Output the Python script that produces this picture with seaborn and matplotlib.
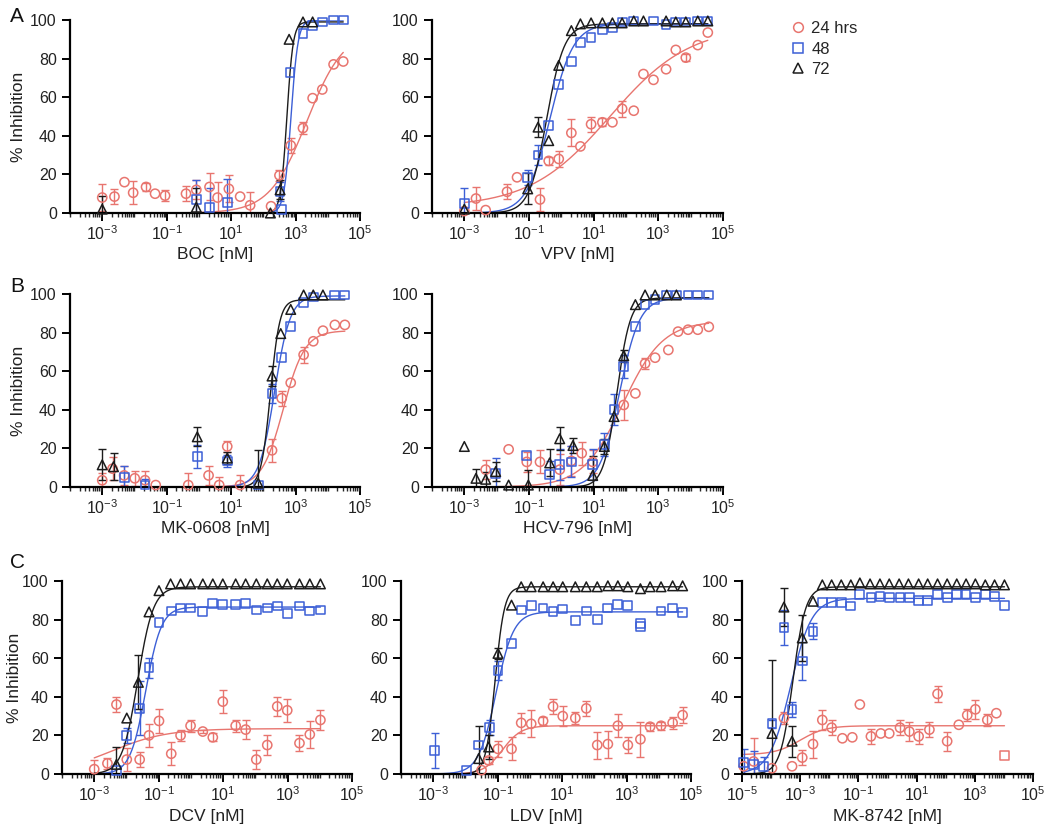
import numpy as np
import pandas as pd
import matplotlib
matplotlib.use("Agg")
import matplotlib.pyplot as plt
from matplotlib.lines import Line2D
from matplotlib.ticker import FixedLocator, FixedFormatter, LogLocator, NullFormatter
import seaborn as sns

RED = "#e8756f"
BLUE = "#3c5fd6"
BLACK = "#1c1c1c"

# x values are log10 of concentration [nM]
# ---- A: BOC
BOC_24_X = [-3, -2.62, -2.31, -2.04, -1.64, -1.36, -1.05, -0.4, -0.08, 0.33, 0.58, 0.93, 1.28, 1.59, 2.24, 2.5, 2.85, 3.23, 3.53, 3.83, 4.18, 4.48]
BOC_24_Y = [8, 8.5, 16, 10.5, 13.5, 10, 9, 10, 12, 13.5, 8, 12.5, 8.5, 4, 3.5, 19.5, 35, 44, 59.5, 64, 77, 78.5]
BOC_24_E = [7, 4, 0, 6, 2, 0, 3, 4, 5, 7, 8, 7, 0, 7, 0, 3, 4, 3, 0, 0, 0, 0]
BOC_48_X = [-0.08, 0.33, 0.88, 2.52, 2.56, 2.83, 3.23, 3.53, 3.83, 4.18, 4.48]
BOC_48_Y = [7, 3, 5.5, 11, 2, 73, 93, 97, 99, 100, 100]
BOC_48_E = [10, 10, 12, 5, 0, 0, 0, 0, 0, 0, 0]
BOC_72_X = [-3, -0.08, 2.22, 2.52, 2.8, 3.23, 3.53]
BOC_72_Y = [2, 3, 0, 12, 90, 99, 99]
BOC_72_E = [7, 10, 0, 5, 0, 0, 0]
BOC_FIT = [(0, 95, 3.35, 0.75), (0, 100, 2.86, 4.0), (0, 99, 2.73, 4.5)]

# ---- A: VPV
VPV_24_X = [-3, -2.64, -2.34, -1.68, -1.37, -0.66, -0.39, -0.08, 0.31, 0.59, 0.92, 1.27, 1.58, 1.88, 2.24, 2.54, 2.85, 3.24, 3.54, 3.85, 4.22, 4.53]
VPV_24_Y = [1, 7.5, 1.5, 11, 18.5, 7, 27, 28, 41.5, 34.5, 46, 47, 47, 54, 53, 72, 69, 74.5, 84.5, 80.5, 87, 93.5]
VPV_24_E = [0, 6, 0, 4, 0, 6, 2, 4, 7, 0, 4, 2, 0, 4, 0, 0, 0, 0, 0, 2, 0, 0]
VPV_48_X = [-3, -1.04, -0.72, -0.39, -0.08, 0.31, 0.59, 0.92, 1.27, 1.58, 1.88, 2.24, 2.85, 3.24, 3.54, 3.85, 4.22, 4.53]
VPV_48_Y = [5, 18.5, 30, 45.5, 66.5, 78.5, 88.5, 91, 95, 96, 99, 99.5, 99.5, 97.5, 99, 99, 99.5, 99.5]
VPV_48_E = [8, 4, 5, 0, 0, 0, 0, 0, 0, 0, 0, 0, 0, 0, 0, 0, 0, 0]
VPV_72_X = [-3, -1.04, -0.72, -0.39, -0.08, 0.31, 0.59, 0.92, 1.27, 1.58, 1.88, 2.24, 2.54, 3.24, 3.54, 3.85, 4.22, 4.53]
VPV_72_Y = [2, 12.5, 44.5, 37.5, 76.5, 94.5, 98, 98.5, 98.5, 98.5, 98.5, 99.5, 99.5, 99.5, 99, 99, 99.5, 99.5]
VPV_72_E = [0, 8, 5, 0, 0, 0, 0, 0, 0, 0, 0, 0, 0, 0, 0, 0, 0, 0]
VPV_FIT = [(3, 97, 1.5, 0.35), (0, 98, -0.35, 1.2), (0, 98, -0.45, 1.6)]

# ---- B: MK-0608
MK0608_24_X = [-3, -2.68, -2.32, -1.99, -1.67, -1.34, -0.33, 0.3, 0.63, 0.88, 1.28, 2.27, 2.57, 2.85, 3.25, 3.55, 3.85, 4.22, 4.53]
MK0608_24_Y = [3.5, 9.5, 6, 4.5, 3.5, 1, 1, 6, 1, 21, 1, 19, 46, 54, 68.5, 75.5, 81, 84, 84]
MK0608_24_E = [4, 6, 5, 4, 5, 0, 6, 5, 4, 3, 5, 6, 4, 0, 4, 0, 0, 0, 0]
MK0608_48_X = [-2.32, -1.67, -0.05, 0.88, 1.84, 2.27, 2.57, 2.85, 3.25, 3.55, 4.22, 4.53]
MK0608_48_Y = [5, 1, 16, 13.5, 1, 48.5, 67, 83, 95.5, 98.5, 99.5, 99.5]
MK0608_48_E = [6, 3, 6, 3, 0, 5, 0, 0, 0, 0, 0, 0]
MK0608_72_X = [-3, -2.65, -0.05, 0.88, 1.84, 2.27, 2.54, 2.85, 3.25, 3.55, 3.85]
MK0608_72_Y = [11.5, 10.5, 26, 15, 2, 57.5, 79.5, 92, 99.5, 99.5, 99.5]
MK0608_72_E = [8, 7, 5, 3, 17, 5, 0, 0, 0, 0, 0]
MK0608_FIT = [(0, 81, 2.62, 1.3), (0, 99, 2.35, 1.8), (0, 97, 2.22, 3.0)]

# ---- B: HCV-796
HCV_24_X = [-2.34, -1.63, -1.07, -0.66, -0.05, 0.31, 0.63, 0.97, 1.93, 2.29, 2.59, 2.9, 3.31, 3.61, 3.92, 4.22, 4.56]
HCV_24_Y = [9, 19.5, 13, 13, 9, 13.5, 17.5, 13, 42.5, 48.5, 64, 67, 71, 80.5, 81.5, 81.5, 83]
HCV_24_E = [5, 0, 5, 6, 8, 8, 6, 6, 8, 0, 3, 0, 0, 0, 0, 0, 0]
HCV_48_X = [-2.03, -1.07, -0.36, -0.05, 0.31, 0.97, 1.33, 1.63, 1.93, 2.29, 2.59, 2.9, 3.26, 3.56, 3.92, 4.22, 4.56]
HCV_48_Y = [7, 16.5, 6.5, 11.5, 13, 11.5, 22, 40, 62.5, 83, 94.5, 97, 99.5, 99.5, 99.5, 99.5, 99.5]
HCV_48_E = [8, 0, 7, 8, 8, 8, 6, 8, 6, 0, 0, 0, 0, 0, 0, 0, 0]
HCV_72_X = [-3, -2.64, -2.34, -2.03, -1.63, -1.02, -0.36, -0.05, 0.36, 0.97, 1.33, 1.63, 1.93, 2.29, 2.59, 2.9, 3.26, 3.56]
HCV_72_Y = [21, 4.5, 4, 8, 1, 1, 12.5, 25, 21.5, 6, 21, 36.5, 68, 94.5, 99.5, 99.5, 99.5, 99.5]
HCV_72_E = [0, 5, 4, 5, 0, 8, 7, 6, 4, 10, 4, 0, 3, 0, 0, 0, 0, 0]
HCV_FIT = [(0, 86, 1.9, 0.7), (0, 98, 1.8, 1.4), (0, 98, 1.72, 2.1)]

# ---- C: DCV
DCV_24_X = [-3, -2.59, -2.31, -1.99, -1.59, -1.3, -0.99, -0.61, -0.32, -0.01, 0.37, 0.68, 0.99, 1.39, 1.7, 2.03, 2.37, 2.68, 2.99, 3.37, 3.69, 4.02]
DCV_24_Y = [2.5, 5.5, 36, 7.5, 7.5, 20, 27.5, 10.5, 20, 25, 22, 19, 37.5, 25, 23, 7.5, 15, 35, 33, 16, 20.5, 28]
DCV_24_E = [5, 3, 4, 6, 4, 6, 6, 6, 3, 3, 1, 2, 6, 3, 5, 5, 5, 5, 6, 4, 7, 5]
DCV_48_X = [-2.31, -1.99, -1.59, -1.3, -0.99, -0.61, -0.32, -0.01, 0.37, 0.68, 0.99, 1.39, 1.7, 2.03, 2.37, 2.68, 2.99, 3.37, 3.69, 4.02]
DCV_48_Y = [2, 20, 34, 55, 78.5, 84.5, 86, 86, 84, 88.5, 88, 88, 88.5, 85, 86, 87, 83, 87, 84.5, 85]
DCV_48_E = [0, 4, 14, 5, 0, 0, 0, 0, 0, 0, 0, 0, 0, 0, 0, 0, 0, 0, 0, 0]
DCV_72_X = [-2.31, -1.99, -1.63, -1.3, -0.99, -0.63, -0.32, -0.01, 0.37, 0.68, 0.99, 1.39, 1.7, 2.03, 2.37, 2.68, 2.99, 3.37, 3.69, 4.02]
DCV_72_Y = [5, 29, 47.5, 84, 95, 98.5, 98.5, 98.5, 98.5, 98.5, 98.5, 98.5, 98.5, 98.5, 98.5, 98.5, 98.5, 98.5, 98.5, 98.5]
DCV_72_E = [9, 0, 14, 0, 0, 0, 0, 0, 0, 0, 0, 0, 0, 0, 0, 0, 0, 0, 0, 0]
DCV_FIT = [(0, 23.5, -2.48, 0.5), (0, 86.5, -1.4, 1.8), (0, 97, -1.65, 1.8)]

# ---- C: LDV
LDV_24_X = [-1.5, -1.28, -0.99, -0.57, -0.27, 0.04, 0.41, 0.72, 1.02, 1.41, 1.75, 2.09, 2.42, 2.73, 3.04, 3.43, 3.73, 4.07, 4.43, 4.74]
LDV_24_Y = [2, 7, 13, 13, 26.5, 26, 27.5, 35, 30, 29, 34, 15, 15.5, 25, 15, 18, 24.5, 25, 26.5, 30.5]
LDV_24_E = [0, 2, 4, 6, 5, 7, 2, 4, 5, 3, 4, 7, 7, 6, 4, 9, 2, 2, 3, 4]
LDV_48_X = [-2.95, -1.97, -1.59, -1.25, -0.99, -0.57, -0.27, 0.04, 0.41, 0.72, 1.02, 1.41, 1.75, 2.09, 2.42, 2.73, 3.04, 3.43, 3.43, 4.07, 4.43, 4.74]
LDV_48_Y = [12, 2, 15, 24, 53.5, 67.5, 85, 87.5, 86, 84, 85.5, 79.5, 84.5, 80, 86, 88, 87.5, 78, 76.5, 84.5, 86, 83.5]
LDV_48_E = [9, 0, 0, 4, 5, 0, 0, 0, 0, 0, 0, 0, 0, 0, 0, 0, 0, 0, 0, 0, 0, 0]
LDV_72_X = [-1.59, -1.28, -0.99, -0.57, -0.27, 0.04, 0.41, 0.72, 1.02, 1.41, 1.75, 2.09, 2.42, 2.73, 3.04, 3.43, 3.73, 4.07, 4.43, 4.74]
LDV_72_Y = [8, 14, 62.5, 87.5, 97, 97, 97, 97, 97, 97, 97, 97, 97.5, 97.5, 97, 96, 97, 97, 97.5, 97.5]
LDV_72_E = [17, 6, 3, 0, 0, 0, 0, 0, 0, 0, 0, 0, 0, 0, 0, 0, 0, 0, 0, 0]
LDV_FIT = [(0, 25, -0.85, 1.5), (0, 84, -1.05, 1.6), (0, 97, -1.08, 3.0)]

# ---- C: MK-8742
MK8742_24_X = [-4.94, -4.6, -3.97, -3.56, -3.28, -2.93, -2.56, -2.24, -1.92, -1.55, -1.21, -0.95, -0.57, -0.23, 0.06, 0.43, 0.75, 1.07, 1.44, 1.72, 2.05, 2.45, 2.74, 3.02, 3.43, 3.74]
MK8742_24_Y = [4, 6.5, 3, 29, 4, 8.5, 15.5, 28, 24, 18.5, 19, 36, 19.5, 21, 21, 24, 22, 19.5, 23, 41.5, 17, 25.5, 30.5, 33.5, 28, 31.5]
MK8742_24_E = [0, 12, 0, 3, 0, 4, 7, 5, 4, 0, 0, 0, 4, 0, 0, 4, 5, 4, 4, 4, 5, 0, 3, 5, 3, 0]
MK8742_24_SQ_X = [4.02]
MK8742_24_SQ_Y = [9.5]
MK8742_48_X = [-4.94, -4.6, -4.25, -3.97, -3.56, -3.28, -2.93, -2.56, -2.24, -1.92, -1.59, -1.26, -0.95, -0.57, -0.26, 0.06, 0.43, 0.75, 1.07, 1.38, 1.72, 2.05, 2.38, 2.7, 3.02, 3.36, 3.68, 4.02]
MK8742_48_Y = [6, 5, 4, 26, 76, 33.5, 58.5, 74, 89, 89, 89, 87, 93, 91.5, 92, 91.5, 91.5, 91.5, 90, 90, 93, 91.5, 93, 93, 91.5, 93, 92, 87.5]
MK8742_48_E = [7, 7, 5, 2, 9, 4, 10, 4, 0, 0, 0, 0, 0, 0, 0, 0, 0, 0, 0, 0, 0, 0, 0, 0, 0, 0, 0, 0]
MK8742_72_X = [-3.97, -3.56, -3.28, -2.93, -2.56, -2.24, -1.92, -1.59, -1.26, -0.95, -0.6, -0.26, 0.06, 0.4, 0.72, 1.07, 1.38, 1.72, 2.05, 2.38, 2.7, 3.02, 3.36, 3.68, 4.02]
MK8742_72_Y = [21, 86.5, 17, 70.5, 89.5, 98, 98, 98, 98, 99, 98.5, 98.5, 98.5, 98.5, 98.5, 98.5, 98.5, 98.5, 98.5, 98.5, 98.5, 98.5, 98, 98, 98]
MK8742_72_E = [38, 10, 8, 12, 0, 0, 0, 0, 0, 0, 0, 0, 0, 0, 0, 0, 0, 0, 0, 0, 0, 0, 0, 0, 0]
MK8742_FIT = [(10, 25, -3.0, 1.0), (0, 91, -3.33, 1.2), (0, 97, -3.25, 2.0)]

LEGEND = ["24 hrs", "48", "72"]
COLORS = [RED, BLUE, BLACK]
MARKERS = ["o", "s", "^"]
SIZES = [44, 40, 48]

W, H = 1050, 832


def hill(logx, bottom, top, logec50, slope):
    return bottom + (top - bottom) / (1 + 10.0 ** ((logec50 - logx) * slope))


def rect(left, top, right, bottom):
    return [left / W, 1 - bottom / H, (right - left) / W, (bottom - top) / H]


def draw_panel(ax, series, fits, xlabel, lo, hi, ylabel_x=None):
    ax.set_xscale("log")
    lx_all = np.concatenate([np.asarray(s[0], float) for s in series])
    grid = np.linspace(lx_all.min(), lx_all.max(), 400)
    for (lx, y, e), fit, color, marker, size in zip(series, fits, COLORS, MARKERS, SIZES):
        lx = np.asarray(lx, float)
        y = np.asarray(y, float)
        e = np.asarray(e, float)
        x = 10.0 ** lx
        curve = pd.DataFrame({"x": 10.0 ** grid, "y": hill(grid, *fit)})
        sns.lineplot(data=curve, x="x", y="y", ax=ax, color=color, lw=1.0, zorder=2)
        m = e > 0
        ax.errorbar(x[m], y[m], yerr=e[m], fmt="none", ecolor=color,
                    elinewidth=1.0, capsize=3, capthick=1.0, zorder=2)
        sns.scatterplot(x=x, y=y, ax=ax, marker=marker, s=size, facecolor="none",
                        edgecolor=color, linewidth=1.1, clip_on=False, zorder=3)
    ax.set_xlim(10.0 ** lo, 10.0 ** hi)
    ax.set_ylim(0, 100)
    exps = [k for k in range(lo, hi + 1) if k % 2 != 0]
    ax.xaxis.set_major_locator(FixedLocator([10.0 ** k for k in exps]))
    ax.xaxis.set_major_formatter(FixedFormatter([f"10$^{{{k}}}$" for k in exps]))
    ax.xaxis.set_minor_locator(LogLocator(base=10, subs=np.arange(1, 10), numticks=60))
    ax.xaxis.set_minor_formatter(NullFormatter())
    ax.set_yticks([0, 20, 40, 60, 80, 100])
    ax.tick_params(axis="both", which="major", direction="out", length=6, width=1.4,
                   labelsize=11.5, color="black", labelcolor="#222222")
    ax.tick_params(axis="x", which="minor", direction="out", length=3, width=1.0)
    ax.tick_params(axis="x", which="major", pad=2)
    for side in ["left", "bottom"]:
        ax.spines[side].set_linewidth(1.6)
        ax.spines[side].set_color("black")
    sns.despine(ax=ax)
    ax.set_xlabel(xlabel, fontsize=12.5, color="#222222", va="center")
    ax.xaxis.set_label_coords(0.5, -42 / 193)
    if ylabel_x is not None:
        pos = ax.get_position()
        ax.set_ylabel("% Inhibition", fontsize=12.5, color="#222222", va="center")
        ax.yaxis.set_label_coords((ylabel_x / W - pos.x0) / pos.width, 0.5)
    else:
        ax.set_ylabel("")


sns.set_style("ticks")
plt.rcParams["font.family"] = ["Liberation Sans", "DejaVu Sans"]
plt.rcParams["mathtext.default"] = "regular"

fig = plt.figure(figsize=(W / 100, H / 100), dpi=100)

panels = [
    (rect(70, 20, 360, 213), [(BOC_24_X, BOC_24_Y, BOC_24_E), (BOC_48_X, BOC_48_Y, BOC_48_E), (BOC_72_X, BOC_72_Y, BOC_72_E)], BOC_FIT, "BOC [nM]", -4, 5, 19),
    (rect(432, 20, 723, 213), [(VPV_24_X, VPV_24_Y, VPV_24_E), (VPV_48_X, VPV_48_Y, VPV_48_E), (VPV_72_X, VPV_72_Y, VPV_72_E)], VPV_FIT, "VPV [nM]", -4, 5, None),
    (rect(70, 294, 360, 487), [(MK0608_24_X, MK0608_24_Y, MK0608_24_E), (MK0608_48_X, MK0608_48_Y, MK0608_48_E), (MK0608_72_X, MK0608_72_Y, MK0608_72_E)], MK0608_FIT, "MK-0608 [nM]", -4, 5, 19),
    (rect(432, 294, 723, 487), [(HCV_24_X, HCV_24_Y, HCV_24_E), (HCV_48_X, HCV_48_Y, HCV_48_E), (HCV_72_X, HCV_72_Y, HCV_72_E)], HCV_FIT, "HCV-796 [nM]", -4, 5, None),
    (rect(62, 581, 352, 774), [(DCV_24_X, DCV_24_Y, DCV_24_E), (DCV_48_X, DCV_48_Y, DCV_48_E), (DCV_72_X, DCV_72_Y, DCV_72_E)], DCV_FIT, "DCV [nM]", -4, 5, 15),
    (rect(401, 581, 691, 774), [(LDV_24_X, LDV_24_Y, LDV_24_E), (LDV_48_X, LDV_48_Y, LDV_48_E), (LDV_72_X, LDV_72_Y, LDV_72_E)], LDV_FIT, "LDV [nM]", -4, 5, None),
    (rect(742, 581, 1033, 774), [(MK8742_24_X, MK8742_24_Y, MK8742_24_E), (MK8742_48_X, MK8742_48_Y, MK8742_48_E), (MK8742_72_X, MK8742_72_Y, MK8742_72_E)], MK8742_FIT, "MK-8742 [nM]", -5, 5, None),
]

axes = []
for r, series, fits, xlabel, lo, hi, ylab in panels:
    ax = fig.add_axes(r)
    draw_panel(ax, series, fits, xlabel, lo, hi, ylab)
    axes.append(ax)

# odd red square at the top concentration of MK-8742
sns.scatterplot(x=10.0 ** np.asarray(MK8742_24_SQ_X), y=MK8742_24_SQ_Y, ax=axes[6], marker="s",
                s=40, facecolor="none", edgecolor=RED, linewidth=1.1, clip_on=False, zorder=3)

for letter, (px, py) in zip("ABC", [(10, 16), (10, 287), (10, 562)]):
    fig.text(px / W, 1 - py / H, letter, fontsize=15, ha="left", va="center", color="#111111")

handles = [Line2D([], [], marker=m, linestyle="none", markerfacecolor="none", markeredgecolor=c,
                  markersize=7, markeredgewidth=1.1) for m, c in zip(MARKERS, COLORS)]
fig.legend(handles, LEGEND, loc="upper left", bbox_to_anchor=(783 / W, 1 - 14 / H), frameon=False,
           fontsize=12, handletextpad=0.3, labelspacing=0.35, handlelength=1.0, borderaxespad=0)

fig.savefig("out.png", dpi=100)
